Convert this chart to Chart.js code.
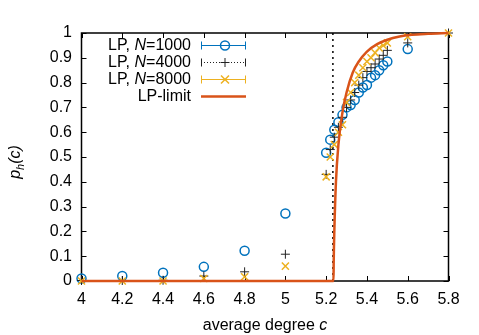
<!DOCTYPE html>
<html>

<head>
    <meta charset="utf-8">
    <title>p_h(c) vs average degree</title>
    <script src="https://cdn.jsdelivr.net/npm/chart.js@4/dist/chart.umd.min.js"></script>
    <style>
        body { margin: 0; background: #fff; }
        #wrap { width: 479px; height: 335px; }
    </style>
</head>

<body>
    <div id="wrap"><canvas id="c"></canvas></div>
    <script>
        // average degree c for the simulated points
        const degrees = [4, 4.2, 4.4, 4.6, 4.8, 5, 5.2, 5.22, 5.24, 5.26, 5.28, 5.3, 5.32, 5.34, 5.36, 5.38, 5.4, 5.42, 5.44, 5.46, 5.48, 5.5, 5.6, 5.8]
        const ph1000 = [0.01, 0.02, 0.033, 0.057, 0.122, 0.272, 0.517, 0.57, 0.61, 0.64, 0.67, 0.70, 0.71, 0.73, 0.76, 0.78, 0.79, 0.82, 0.83, 0.85, 0.87, 0.885, 0.935, null]
        const ph4000 = [0.002, 0.002, 0.003, 0.02, 0.037, 0.108, 0.43, 0.53, 0.58, 0.62, 0.66, 0.70, 0.73, 0.76, 0.79, 0.82, 0.845, 0.86, 0.875, 0.895, 0.91, 0.93, 0.96, 1.0]
        const ph8000 = [0, 0, 0, 0.01, 0.017, 0.06, 0.42, 0.50, 0.55, 0.60, 0.63, 0.72, 0.76, 0.80, 0.83, 0.86, 0.885, 0.90, 0.92, 0.94, 0.95, 0.96, 0.985, 1.0]

        // LP-limit curve
        const limitC = [4, 5.236, 5.237, 5.24, 5.248, 5.26, 5.28, 5.30, 5.33, 5.36, 5.40, 5.45, 5.50, 5.56, 5.62, 5.70, 5.8]
        const limitP = [0, 0, 0.08, 0.2, 0.4, 0.55, 0.68, 0.76, 0.84, 0.885, 0.925, 0.955, 0.973, 0.986, 0.993, 0.997, 1.0]

        // dashed threshold line
        const thresholdC = 5.233

        const xTicks = ['4', '4.2', '4.4', '4.6', '4.8', '5', '5.2', '5.4', '5.6', '5.8']
        const yTicks = ['0', '0.1', '0.2', '0.3', '0.4', '0.5', '0.6', '0.7', '0.8', '0.9', '1']

        const BLUE = '#0072bd'
        const YEL = '#edb120'
        const RED = '#d95319'
        const FONT = '"Liberation Sans", Arial, sans-serif'

        const pts = (xs, ys) => xs.map((x, i) => ({ x: x, y: ys[i] }))

        // draws frame, inner ticks, axis titles and legend
        const decor = {
            id: 'decor',
            beforeDatasetsDraw(chart) {
                const { ctx, chartArea: a, scales } = chart
                ctx.save()
                ctx.strokeStyle = '#000'
                ctx.lineWidth = 1.5
                ctx.strokeRect(a.left, a.top, a.right - a.left, a.bottom - a.top)
                ctx.lineWidth = 1
                scales.x.ticks.forEach((t) => {
                    const px = Math.round(scales.x.getPixelForValue(t.value)) + 0.5
                    ctx.beginPath()
                    ctx.moveTo(px, a.bottom); ctx.lineTo(px, a.bottom - 5)
                    ctx.moveTo(px, a.top); ctx.lineTo(px, a.top + 5)
                    ctx.stroke()
                })
                scales.y.ticks.forEach((t) => {
                    const py = Math.round(scales.y.getPixelForValue(t.value)) + 0.5
                    ctx.beginPath()
                    ctx.moveTo(a.left, py); ctx.lineTo(a.left + 5, py)
                    ctx.moveTo(a.right, py); ctx.lineTo(a.right - 5, py)
                    ctx.stroke()
                })
                ctx.restore()
            },
            afterDraw(chart) {
                const { ctx, chartArea: a } = chart
                ctx.save()
                ctx.fillStyle = '#000'
                ctx.textBaseline = 'alphabetic'

                // x title
                const n = '16px ' + FONT, it = 'italic 16px ' + FONT, sub = 'italic 11px ' + FONT
                ctx.font = n
                const w1 = ctx.measureText('average degree ').width
                ctx.font = it
                const w2 = ctx.measureText('c').width
                let sx = (a.left + a.right) / 2 - (w1 + w2) / 2
                ctx.font = n
                ctx.fillText('average degree ', sx, 330)
                ctx.font = it
                ctx.fillText('c', sx + w1, 330)

                // y title
                ctx.save()
                ctx.translate(20, 162)
                ctx.rotate(-Math.PI / 2)
                ctx.font = it
                const wp = ctx.measureText('p').width
                const wc = ctx.measureText('(c)').width
                ctx.font = sub
                const wh = ctx.measureText('h').width
                let x0 = -(wp + wh + wc) / 2
                ctx.font = it
                ctx.fillText('p', x0, 0)
                ctx.font = sub
                ctx.fillText('h', x0 + wp, 3.5)
                ctx.font = it
                ctx.fillText('(c)', x0 + wp + wh, 0)
                ctx.restore()

                // legend
                const rows = [
                    { pre: 'LP, ', ital: 'N', post: '=1000', y: 45 },
                    { pre: 'LP, ', ital: 'N', post: '=4000', y: 62 },
                    { pre: 'LP, ', ital: 'N', post: '=8000', y: 79 },
                    { pre: 'LP-limit', ital: '', post: '', y: 96 }
                ]
                ctx.textBaseline = 'middle'
                rows.forEach((r) => {
                    ctx.font = n
                    const a1 = ctx.measureText(r.pre).width
                    const a3 = ctx.measureText(r.post).width
                    ctx.font = it
                    const a2 = ctx.measureText(r.ital).width
                    let tx = 191 - (a1 + a2 + a3)
                    ctx.font = n
                    ctx.fillText(r.pre, tx, r.y + 1)
                    ctx.font = it
                    ctx.fillText(r.ital, tx + a1, r.y + 1)
                    ctx.font = n
                    ctx.fillText(r.post, tx + a1 + a2, r.y + 1)
                })
                const L = 201, R = 246, M = 225
                const caps = (col, y) => {
                    ctx.strokeStyle = col
                    ctx.lineWidth = 1
                    ctx.beginPath()
                    ctx.moveTo(L + 0.5, y - 4); ctx.lineTo(L + 0.5, y + 4)
                    ctx.moveTo(R - 0.5, y - 4); ctx.lineTo(R - 0.5, y + 4)
                    ctx.stroke()
                }
                // row 1
                let y = 45.5
                ctx.strokeStyle = BLUE; ctx.lineWidth = 1.2
                ctx.beginPath(); ctx.moveTo(L, y); ctx.lineTo(R, y); ctx.stroke()
                caps(BLUE, y)
                ctx.lineWidth = 1.5
                ctx.beginPath(); ctx.arc(M, y, 4.5, 0, Math.PI * 2); ctx.stroke()
                // row 2
                y = 62.5
                ctx.strokeStyle = '#222'; ctx.lineWidth = 1
                ctx.setLineDash([1, 2])
                ctx.beginPath(); ctx.moveTo(L, y); ctx.lineTo(R, y); ctx.stroke()
                ctx.setLineDash([])
                caps('#222', y)
                ctx.beginPath()
                ctx.moveTo(M - 4.5, y); ctx.lineTo(M + 4.5, y)
                ctx.moveTo(M, y - 4.5); ctx.lineTo(M, y + 4.5)
                ctx.stroke()
                // row 3
                y = 79.5
                ctx.strokeStyle = YEL; ctx.lineWidth = 1.2
                ctx.beginPath(); ctx.moveTo(L, y); ctx.lineTo(R, y); ctx.stroke()
                caps(YEL, y)
                ctx.lineWidth = 1.5
                ctx.beginPath()
                ctx.moveTo(M - 4, y - 4); ctx.lineTo(M + 4, y + 4)
                ctx.moveTo(M - 4, y + 4); ctx.lineTo(M + 4, y - 4)
                ctx.stroke()
                // row 4
                y = 96.5
                ctx.strokeStyle = RED; ctx.lineWidth = 2.5
                ctx.beginPath(); ctx.moveTo(L, y); ctx.lineTo(R, y); ctx.stroke()

                ctx.restore()
            }
        }

        const config = {
            type: 'scatter',
            data: {
                datasets: [
                    {
                        label: 'LP-limit', data: pts(limitC, limitP), showLine: true,
                        borderColor: RED, borderWidth: 2.5, pointRadius: 0,
                        cubicInterpolationMode: 'monotone', order: 0, clip: false
                    },
                    {
                        label: 'LP, N=8000', data: pts(degrees, ph8000), pointStyle: 'crossRot',
                        pointRadius: 5, borderColor: YEL, borderWidth: 1.5, order: 1, clip: false
                    },
                    {
                        label: 'LP, N=4000', data: pts(degrees, ph4000), pointStyle: 'cross',
                        pointRadius: 4.5, borderColor: '#222', borderWidth: 1, order: 2, clip: false
                    },
                    {
                        label: 'LP, N=1000', data: pts(degrees, ph1000), pointStyle: 'circle',
                        pointRadius: 4.5, borderColor: BLUE, backgroundColor: 'rgba(0,0,0,0)',
                        borderWidth: 1.5, order: 3, clip: false
                    },
                    {
                        label: 'threshold', data: [{ x: thresholdC, y: 0 }, { x: thresholdC, y: 1 }],
                        showLine: true, borderColor: '#000', borderWidth: 1.5, borderDash: [2, 4],
                        pointRadius: 0, order: 4
                    }
                ]
            },
            options: {
                responsive: true,
                maintainAspectRatio: false,
                animation: false,
                events: [],
                layout: { padding: { top: 33, right: 30.5, left: 0, bottom: 0 } },
                plugins: { legend: { display: false }, tooltip: { enabled: false } },
                scales: {
                    x: {
                        type: 'linear', min: 4, max: 5.8,
                        afterFit: (s) => { s.height = 54 },
                        afterBuildTicks: (s) => { s.ticks = xTicks.map((t) => ({ value: Number(t) })) },
                        grid: { display: false, drawTicks: false },
                        border: { display: false },
                        ticks: {
                            padding: 9, color: '#000', font: { family: FONT, size: 16 },
                            callback: (v) => xTicks.find((t) => Math.abs(Number(t) - v) < 1e-6) ?? ''
                        }
                    },
                    y: {
                        type: 'linear', min: 0, max: 1,
                        afterFit: (s) => { s.width = 81.5 },
                        afterBuildTicks: (s) => { s.ticks = yTicks.map((t) => ({ value: Number(t) })) },
                        grid: { display: false, drawTicks: false },
                        border: { display: false },
                        ticks: {
                            padding: 9.5, color: '#000', font: { family: FONT, size: 16 },
                            callback: (v) => yTicks.find((t) => Math.abs(Number(t) - v) < 1e-6) ?? ''
                        }
                    }
                }
            },
            plugins: [decor]
        }

        new Chart(document.getElementById('c'), config)
    </script>
</body>

</html>
